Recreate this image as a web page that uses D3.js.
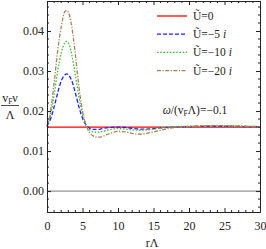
<!DOCTYPE html>
<html>
<head>
<meta charset="utf-8">
<script src="https://cdn.jsdelivr.net/npm/d3@7"></script>
<style>
  body { margin: 0; background: #fff; }
</style>
</head>
<body>
<script>
// LDOS vs r
const w = 266;
const h = 249;
const margin = {left: 47, right: 6, top: 1, bottom: 37};
const serif = "Liberation Serif";

// r values (x) shared by the three interacting curves
const rVals = [0, 0.5, 1, 1.5, 2, 2.5, 2.8, 3, 3.5, 4, 4.5, 5, 5.5, 6, 6.5, 7, 7.5, 8, 9, 10, 11, 12, 13, 14, 15, 16, 17, 18, 20, 22, 24, 26, 28, 30];

const u0 = 0.0160; // Ũ=0 is flat
const u5 = [0.0163, 0.0180, 0.0210, 0.0245, 0.0275, 0.0290, 0.0293, 0.0291, 0.0275, 0.0245, 0.0210, 0.0182, 0.0165, 0.0157, 0.0154, 0.0154, 0.0155, 0.0157, 0.0159, 0.0160, 0.0159, 0.0157, 0.0155, 0.0155, 0.0156, 0.0158, 0.0159, 0.0160, 0.0161, 0.0162, 0.0162, 0.0162, 0.0161, 0.0161];
const u10 = [0.0163, 0.0190, 0.0240, 0.0300, 0.0345, 0.0370, 0.0374, 0.0371, 0.0340, 0.0290, 0.0235, 0.0190, 0.0165, 0.0153, 0.0148, 0.0147, 0.0148, 0.0150, 0.0154, 0.0156, 0.0155, 0.0153, 0.0152, 0.0153, 0.0155, 0.0158, 0.0160, 0.0161, 0.0162, 0.0163, 0.0163, 0.0162, 0.0162, 0.0161];
const u20 = [0.0160, 0.0200, 0.0270, 0.0350, 0.0410, 0.0448, 0.0451, 0.0447, 0.0410, 0.0340, 0.0260, 0.0200, 0.0165, 0.0146, 0.0138, 0.0135, 0.0135, 0.0138, 0.0145, 0.0149, 0.0148, 0.0144, 0.0142, 0.0144, 0.0148, 0.0152, 0.0156, 0.0159, 0.0161, 0.0163, 0.0164, 0.0163, 0.0162, 0.0161];

const xTicks = [0, 5, 10, 15, 20, 25, 30];
const yTicks = [0.00, 0.01, 0.02, 0.03, 0.04];

const series = [
  {name: "0", vals: rVals.map(() => u0), color: "#ff0000", dash: null, imag: false},
  {name: "\u22125 ", vals: u5, color: "#1f1fff", dash: "4,2", imag: true},
  {name: "\u221210 ", vals: u10, color: "#3cc13c", dash: "1.6,1.6", imag: true},
  {name: "\u221220 ", vals: u20, color: "#a9825a", dash: "4,1.5,1.2,1.5", imag: true}
];

const xScale = d3.scaleLinear().domain([0, 30]).range([margin.left, w - margin.right]);
const yScale = d3.scaleLinear().domain([-0.00523, 0.0475]).range([h - margin.bottom, margin.top]);

const svg = d3.select("body").append("svg")
  .attr("width", w)
  .attr("height", h)
  .attr("font-family", serif);

// zero line
svg.append("line")
  .attr("x1", xScale(0)).attr("x2", xScale(30))
  .attr("y1", yScale(0)).attr("y2", yScale(0))
  .attr("stroke", "#777").attr("stroke-width", 1);

// curves
const line = d3.line()
  .x((d, i) => xScale(rVals[i]))
  .y(d => yScale(d))
  .curve(d3.curveMonotoneX);

series.forEach(s => {
  svg.append("path")
    .datum(s.vals)
    .attr("d", line)
    .attr("fill", "none")
    .attr("stroke", s.color)
    .attr("stroke-width", 1.3)
    .attr("stroke-dasharray", s.dash);
});

// frame axes, ticks inward
const tickStyle = g => {
  g.attr("font-family", serif).attr("font-size", 12);
  g.select(".domain").attr("stroke", "#222");
  g.selectAll(".tick line").attr("stroke", "#222");
  g.selectAll(".tick text").attr("fill", "#222");
};

const minorX = d3.range(0, 31, 1).filter(v => v % 5 !== 0);
const minorY = d3.range(-0.004, 0.0475, 0.002).filter(v => Math.abs(v * 100 - Math.round(v * 100)) > 1e-6);

const bottomAxisG = svg.append("g")
  .attr("transform", "translate(0," + (h - margin.bottom) + ")")
  .call(d3.axisBottom(xScale).tickValues(xTicks).tickSize(-4).tickPadding(9).tickFormat(d3.format("d")));
bottomAxisG.call(tickStyle);
bottomAxisG.selectAll(".minor").data(minorX).enter().append("line")
  .attr("x1", d => xScale(d)).attr("x2", d => xScale(d)).attr("y1", 0).attr("y2", -2)
  .attr("stroke", "#222");

const topAxisG = svg.append("g")
  .attr("transform", "translate(0," + margin.top + ")")
  .call(d3.axisTop(xScale).tickValues(xTicks).tickSize(-4).tickFormat(""));
topAxisG.call(tickStyle);
topAxisG.selectAll(".minor").data(minorX).enter().append("line")
  .attr("x1", d => xScale(d)).attr("x2", d => xScale(d)).attr("y1", 0).attr("y2", 2)
  .attr("stroke", "#222");

const leftAxisG = svg.append("g")
  .attr("transform", "translate(" + margin.left + ",0)")
  .call(d3.axisLeft(yScale).tickValues(yTicks).tickSize(-4).tickPadding(3).tickFormat(d3.format(".2f")));
leftAxisG.call(tickStyle);
leftAxisG.selectAll(".minor").data(minorY).enter().append("line")
  .attr("y1", d => yScale(d)).attr("y2", d => yScale(d)).attr("x1", 0).attr("x2", 2)
  .attr("stroke", "#222");

const rightAxisG = svg.append("g")
  .attr("transform", "translate(" + (w - margin.right) + ",0)")
  .call(d3.axisRight(yScale).tickValues(yTicks).tickSize(-4).tickFormat(""));
rightAxisG.call(tickStyle);
rightAxisG.selectAll(".minor").data(minorY).enter().append("line")
  .attr("y1", d => yScale(d)).attr("y2", d => yScale(d)).attr("x1", 0).attr("x2", -2)
  .attr("stroke", "#222");

// legend
const legend = svg.append("g");
series.forEach((s, i) => {
  const y = 16 + i * 18.2;
  legend.append("line")
    .attr("x1", 157).attr("x2", 187).attr("y1", y).attr("y2", y)
    .attr("stroke", s.color).attr("stroke-width", 1.3)
    .attr("stroke-dasharray", s.dash);
  const t = legend.append("text")
    .attr("x", 193).attr("y", y + 4)
    .attr("font-size", 11.5).attr("fill", "#222");
  t.append("tspan").text("\u0168=" + s.name);
  if (s.imag) t.append("tspan").attr("font-style", "italic").text("i");
});

// annotation
const ann = svg.append("text")
  .attr("x", 195).attr("y", 114)
  .attr("text-anchor", "middle")
  .attr("font-size", 11.5).attr("fill", "#222");
ann.append("tspan").attr("font-style", "italic").text("\u03c9");
ann.append("tspan").text("/(v");
ann.append("tspan").attr("dy", 2).attr("font-size", 7.5).text("F");
ann.append("tspan").attr("dy", -2).text("\u039b)=\u22120.1");

// y label as fraction
const yl = svg.append("g").attr("transform", "translate(10,0)");
const num = yl.append("text").attr("x", 0).attr("y", 102).attr("text-anchor", "middle")
  .attr("font-size", 12).attr("fill", "#222");
num.append("tspan").text("v");
num.append("tspan").attr("dy", 2).attr("font-size", 7.5).text("F");
num.append("tspan").attr("dy", -2).text("\u03bd");
yl.append("line").attr("x1", -9).attr("x2", 9).attr("y1", 105.5).attr("y2", 105.5)
  .attr("stroke", "#222").attr("stroke-width", 0.8);
yl.append("text").attr("x", 0).attr("y", 119).attr("text-anchor", "middle")
  .attr("font-size", 12).attr("fill", "#222").text("\u039b");

// x label
svg.append("text")
  .attr("x", 152).attr("y", 247)
  .attr("text-anchor", "middle")
  .attr("font-size", 12).attr("fill", "#222")
  .text("r\u039b");
</script>
</body>
</html>
